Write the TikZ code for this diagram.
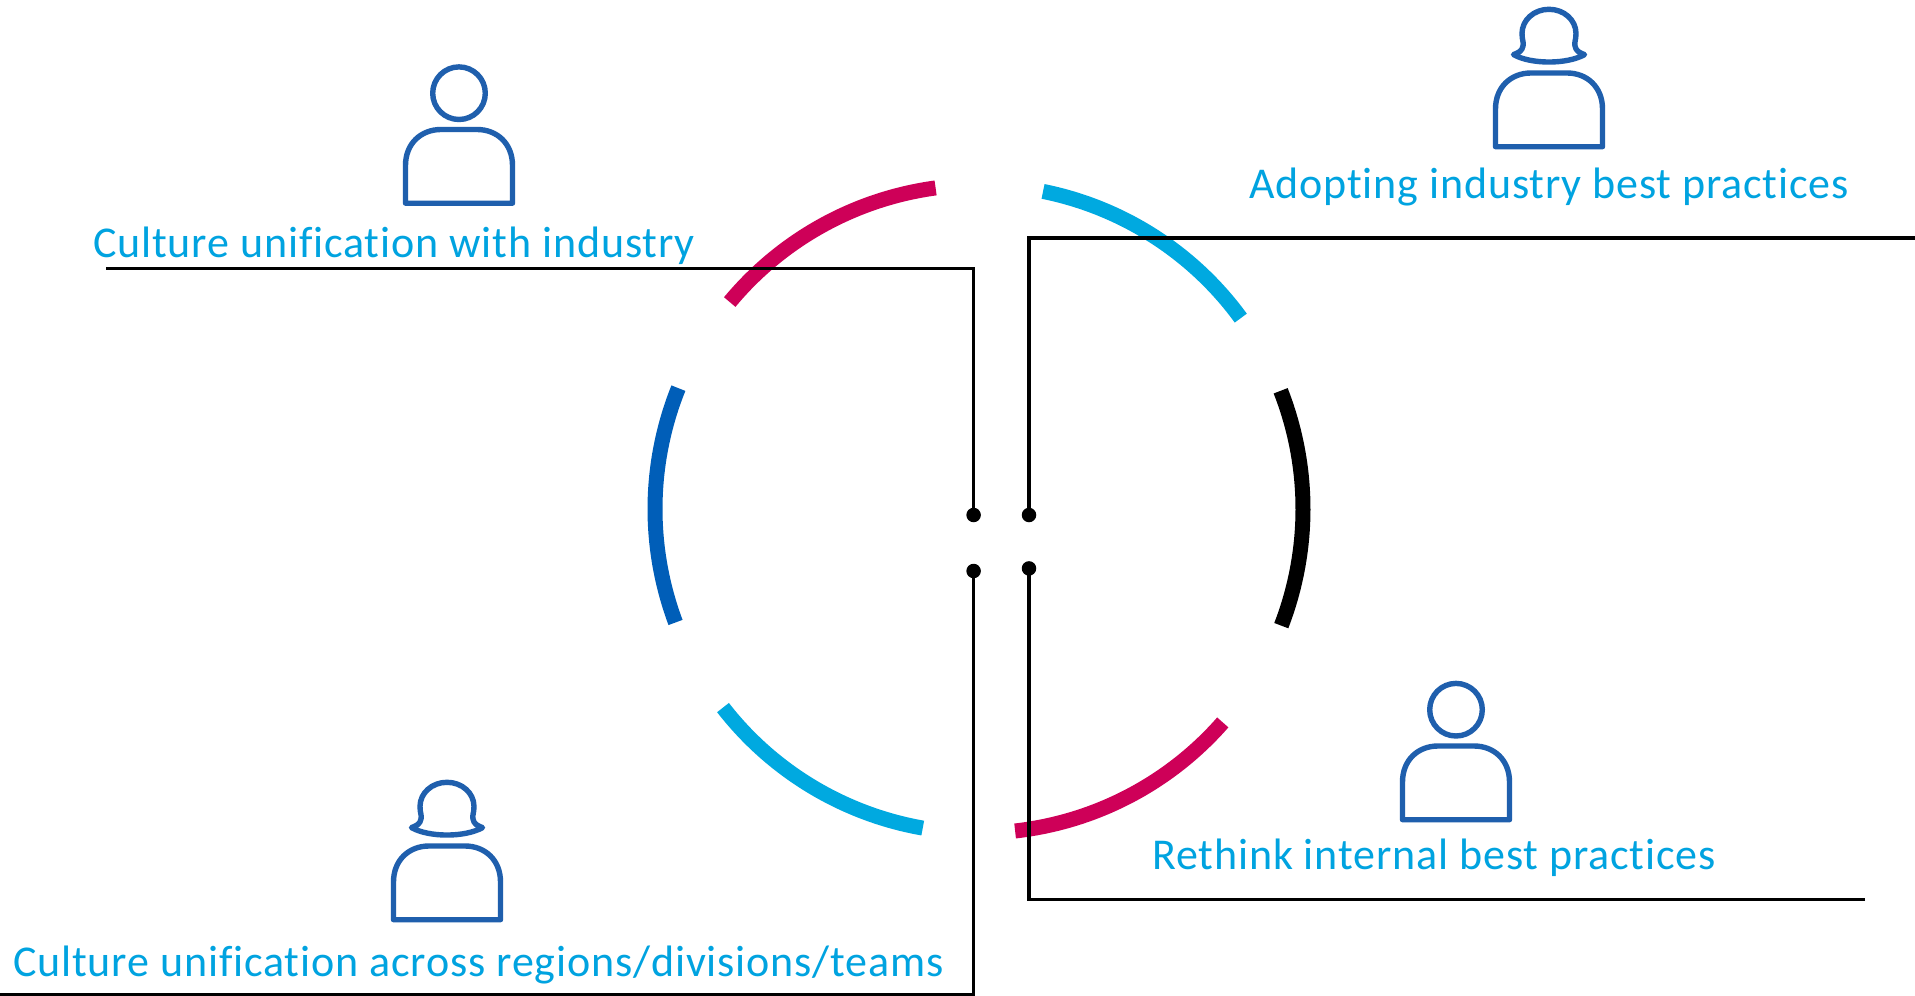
\documentclass[tikz,border=0pt]{standalone}
\usepackage{fontspec}
\setmainfont{Carlito}
\newfontface\lbl[LetterSpace=1.95,Ligatures=NoCommon]{Carlito}
\definecolor{cyanarc}{HTML}{00A9E0}
\definecolor{magarc}{HTML}{CE0058}
\definecolor{bluearc}{HTML}{005EB8}
\definecolor{icon}{HTML}{1F5FAD}
\definecolor{lbltxt}{HTML}{00A3E0}
\newcommand{\ringarc}[3]{\draw[ringseg,#1] plot[domain=#2:#3,samples=70] ({979+324*cos(\x)},{509-324*sin(\x)});}
\tikzset{
  ringseg/.style={line width=15pt,line cap=butt},
  lead/.style={line width=3.6pt,black,line join=miter},
  enddot/.style={circle,fill=black,inner sep=0pt,minimum size=14.5pt},
  caption/.style={anchor=base west,inner sep=0pt,text=lbltxt,font=\fontsize{44}{52}\lbl},
  iconline/.style={icon,line width=5.4pt,line join=round},
  torso/.pic={\draw[iconline] (-53.5,73.7) -- (-53.5,36) .. controls (-53.5,14) and (-38,0) .. (-18,0) -- (18,0) .. controls (38,0) and (53.5,14) .. (53.5,36) -- (53.5,73.7) -- cycle;},
  manicon/.pic={\pic{torso};\draw[iconline] (0,-36.3) circle[radius=26.3];},
  womanicon/.pic={\pic{torso};\draw[iconline] (0,-63.7) .. controls (15,-63.7) and (27,-53) .. (27,-39.5) .. controls (27,-33) and (25,-30) .. (26,-27) .. controls (27,-22) and (30,-20.5) .. (35.5,-18.4) .. controls (18,-8.5) and (-18,-8.5) .. (-35.5,-18.4) .. controls (-30,-20.5) and (-27,-22) .. (-26,-27) .. controls (-25,-30) and (-27,-33) .. (-27,-39.5) .. controls (-27,-53) and (-15,-63.7) .. (0,-63.7) -- cycle;}
}
\begin{document}
\begin{tikzpicture}[x=1pt,y=-1pt]
\useasboundingbox (0,0) rectangle (1915,996);
\fill[white] (0,0) rectangle (1915,996);
\ringarc{magarc}{97.7}{140.3}
\ringarc{cyanarc}{36.1}{78.6}
\ringarc{bluearc}{158.1}{200.5}
\ringarc{cyanarc}{217.8}{260}
\ringarc{magarc}{276.4}{318.8}
\ringarc{black}{-21.1}{21.4}
\node[enddot] (dA) at (973.6,515) {};
\node[enddot] (dB) at (1029,515) {};
\node[enddot] (dC) at (973.6,571) {};
\node[enddot] (dD) at (1029,568.4) {};
\coordinate (eA) at (106,268.5);
\coordinate (eB) at (1915,238);
\coordinate (eC) at (0,995);
\coordinate (eD) at (1865,899.5);
\draw[lead] (eA) -| (dA.center);
\draw[lead] (eB) -| (dB.center);
\draw[lead] (eC) -| (dC.center);
\draw[lead] (eD) -| (dD.center);
\pic at (459,129.5) {manicon};
\pic at (1549,73) {womanicon};
\pic at (1456,746) {manicon};
\pic at (447,846) {womanicon};
\node[caption] (t1) at (93,257.5) {Culture unification with industry};
\node[caption] (t2) at (1249,198) {Adopting industry best practices};
\node[caption] (t3) at (1152,869.5) {Rethink internal best practices};
\node[caption] (t4) at (13,976) {Culture unification across regions/divisions/teams};
\end{tikzpicture}
\end{document}
